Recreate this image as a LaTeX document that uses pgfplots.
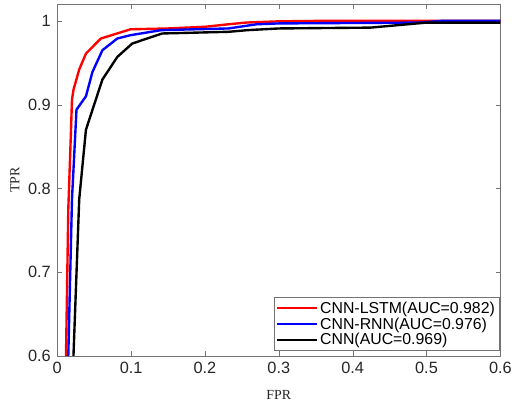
\documentclass[border=0pt]{standalone}
\usepackage{pgfplots}
\pgfplotsset{compat=1.18}
\usepackage{fontspec}
\setmainfont{Liberation Sans}
\newfontfamily\timesfont{Liberation Serif}

\begin{document}
\begin{tikzpicture}
\begin{axis}[
    width=446bp, height=354bp, scale only axis,
    xmin=0, xmax=0.6, ymin=0.6, ymax=1.02,
    xtick={0,0.1,0.2,0.3,0.4,0.5,0.6},
    ytick={0.6,0.7,0.8,0.9,1},
    tick align=inside,
    major tick length=4.5bp,
    axis line style={black!55},
    tick style={black!55},
    /pgf/number format/assume math mode=true,
    tick label style={font=\fontsize{16.5}{19}\selectfont, text=black!85},
    xticklabel style={yshift=-3bp},
    yticklabel style={xshift=-3bp},
    xlabel={FPR}, ylabel={TPR},
    label style={font=\timesfont\fontsize{14}{17}\selectfont, text=black!85},
    xlabel style={yshift=-10bp},
    ylabel style={yshift=2bp},
    legend cell align=left,
    legend style={at={(rel axis cs:0.997,0.015)}, anchor=south east,
        draw=black!55, font=\fontsize{16}{19}\selectfont,
        row sep=-1bp, inner sep=2bp},
    legend image code/.code={\draw[#1] (0bp,0bp) -- (40bp,0bp);},
    every axis plot/.append style={line width=2.4pt, line join=round},
]
\addplot[red] coordinates {
(0.0118,0.6) (0.0149,0.775) (0.0186,0.870) (0.0199,0.906) (0.022,0.918)
(0.0297,0.942) (0.0388,0.961) (0.059,0.979) (0.0993,0.990) (0.15,0.991)
(0.2,0.993) (0.232,0.996) (0.255,0.998) (0.3,0.9995) (0.35,1.0) (0.6,1.0)};
\addlegendentry{CNN-LSTM(AUC=0.982)}
\addplot[blue] coordinates {
(0.0149,0.6) (0.0199,0.787) (0.026,0.894) (0.0388,0.910) (0.0476,0.939)
(0.0611,0.965) (0.0813,0.979) (0.0993,0.983) (0.141,0.989) (0.232,0.991)
(0.27,0.996) (0.3,0.997) (0.49,0.998) (0.52,1.0) (0.6,1.0)};
\addlegendentry{CNN-RNN(AUC=0.976)}
\addplot[black] coordinates {
(0.0219,0.6) (0.0297,0.787) (0.0388,0.870) (0.0611,0.930) (0.0813,0.957)
(0.1015,0.973) (0.142,0.985) (0.232,0.987) (0.258,0.989) (0.3,0.991)
(0.424,0.992) (0.5,0.998) (0.6,0.998)};
\addlegendentry{CNN(AUC=0.969)}
\end{axis}
\path ([xshift=-7bp]current bounding box.west) ([yshift=4bp]current bounding box.north);
\end{tikzpicture}
\end{document}
